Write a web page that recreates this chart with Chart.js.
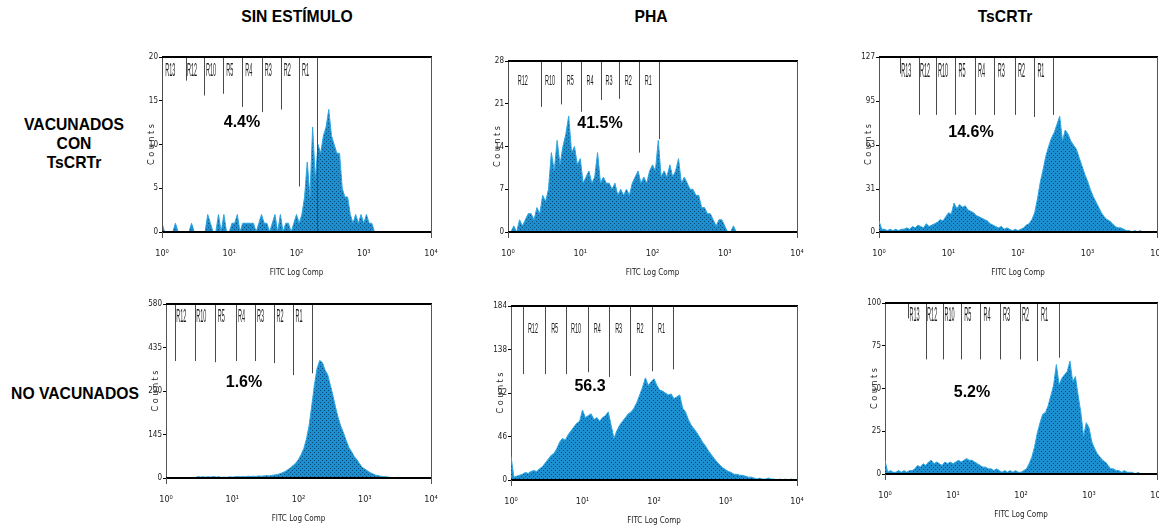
<!DOCTYPE html>
<html>
<head>
<meta charset="utf-8">
<script src="https://cdn.jsdelivr.net/npm/chart.js@4.4.1/dist/chart.umd.min.js"></script>
<style>
  body { margin: 0; background: #fff; }
  #fig { position: relative; width: 1159px; height: 529px; overflow: hidden; font-family: "Liberation Sans", Arial, sans-serif; }
  .t { position: absolute; font-weight: bold; color: #000; white-space: nowrap; transform: translate(-50%, -50%); font-size: 15.7px; }
  .row { text-align: center; line-height: 19px; }
  .pct { font-size: 16px; }
  canvas { position: absolute; }
</style>
</head>
<body>
<div id="fig">
  <div class="t" style="left:297px;top:17px">SIN ESTÍMULO</div>
  <div class="t" style="left:651px;top:17px">PHA</div>
  <div class="t" style="left:1005px;top:17px">TsCRTr</div>
  <div class="t row" style="left:74px;top:143px">VACUNADOS<br>CON<br>TsCRTr</div>
  <div class="t" style="left:75px;top:394px">NO VACUNADOS</div>
</div>
<script>
// channel width of every histogram bin, in decades of FITC
const BIN = 0.04;
const xTickLabels = ['10⁰', '10¹', '10²', '10³', '10⁴'];

// --- VACUNADOS CON TsCRTr ---
const yTicks1 = [0, 5, 10, 15, 20];
const hist1 = [
  1, 0, 0, 0, 0, 1, 0, 0, 0, 0,
  0, 1, 0, 0, 0, 0, 0, 2, 1, 0,
  0, 2, 0, 2, 0, 0, 1, 1, 2, 0,
  1, 1, 1, 1, 1, 0, 1, 2, 1, 1,
  0, 1, 2, 0, 2, 0, 1, 1, 0, 1,
  2, 1, 2, 4, 8, 4, 12, 6, 10, 9,
  11, 12, 14, 11, 10, 9, 9, 5, 4, 4,
  2, 1, 2, 1, 2, 1, 2, 1, 1, 0
];
const gates1 = [0.00, 0.35, 0.63, 0.91, 1.19, 1.48, 1.77, 2.04, 2.31];
const depth1 = [0, 17.3, 15.6, 15.8, 14.3, 13.7, 14.0, 5.2, 0];
const names1 = ['R13', 'R12', 'R10', 'R5', 'R4', 'R3', 'R2', 'R1'];

const yTicks2 = [0, 7, 14, 21, 28];
const hist2 = [
  0, 0, 1, 0, 2, 1, 2, 3, 3, 2,
  4, 3, 6, 5, 7, 13, 10, 15, 11, 14,
  16, 19, 13, 14, 11, 12, 8, 9, 10, 8,
  9, 13, 8, 9, 8, 8, 7, 8, 6, 7,
  6, 7, 6, 8, 9, 10, 8, 9, 8, 10,
  11, 10, 15, 9, 10, 9, 11, 9, 10, 12,
  8, 9, 8, 7, 7, 6, 6, 4, 4, 3,
  3, 2, 1, 2, 2, 1, 0, 0, 1, 0
];
const gates2 = [0.00, 0.456, 0.737, 1.014, 1.282, 1.54, 1.816, 2.093];
const depth2 = [0, 20.5, 20.9, 19.7, 21.6, 21.8, 13.0, 15.2];
const names2 = ['R12', 'R10', 'R5', 'R4', 'R3', 'R2', 'R1'];

const yTicks3 = [0, 31, 63, 95, 127];
const hist3 = [
  8, 2, 2, 1, 2, 1, 2, 1, 2, 2,
  3, 2, 4, 3, 5, 4, 3, 6, 4, 5,
  6, 7, 9, 8, 11, 14, 13, 21, 17, 20,
  18, 19, 16, 15, 14, 12, 11, 10, 9, 8,
  6, 5, 4, 3, 4, 2, 3, 2, 1, 2,
  1, 2, 3, 5, 6, 9, 14, 24, 36, 45,
  55, 62, 68, 72, 78, 84, 66, 74, 71, 66,
  63, 60, 54, 48, 42, 37, 31, 26, 22, 18,
  14, 11, 9, 8, 6, 4, 3, 3, 2, 1,
  1, 0, 1, 0, 1, 0
];
const gates3 = [0.298, 0.572, 0.827, 1.10, 1.375, 1.657, 1.951, 2.234, 2.507];
const depth3 = [115, 85, 85, 85, 85, 85, 85, 83.5, 85];
const names3 = ['R13', 'R12', 'R10', 'R5', 'R4', 'R3', 'R2', 'R1'];

// --- NO VACUNADOS ---
const yTicks4 = [0, 145, 290, 435, 580];
const hist4 = [
  0, 0, 0, 0, 0, 0, 0, 0, 0, 0,
  0, 0, 5, 3, 4, 3, 4, 3, 5, 3,
  4, 2, 3, 2, 4, 3, 4, 5, 4, 5,
  4, 6, 5, 6, 5, 7, 6, 7, 8, 7,
  9, 10, 12, 14, 18, 22, 28, 34, 42, 50,
  62, 78, 98, 130, 175, 240, 310, 365, 392, 385,
  360, 345, 310, 275, 235, 200, 172, 150, 125, 102,
  88, 72, 62, 48, 36, 30, 24, 18, 14, 10,
  8, 6, 5, 4, 3, 0
];
const gates4 = [0.141, 0.443, 0.740, 1.057, 1.339, 1.636, 1.923, 2.21];
const depth4 = [390, 390, 386, 390, 390, 383, 343, 349];
const names4 = ['R12', 'R10', 'R5', 'R4', 'R3', 'R2', 'R1'];

const yTicks5 = [0, 46, 92, 138, 184];
const hist5 = [
  25, 3, 4, 5, 6, 8, 7, 9, 10, 9,
  12, 14, 18, 22, 26, 28, 33, 40, 44, 42,
  48, 52, 56, 60, 62, 74, 66, 68, 70, 64,
  66, 62, 66, 68, 72, 58, 44, 52, 58, 62,
  66, 70, 72, 76, 82, 90, 98, 108, 100, 104,
  107, 100, 95, 94, 92, 90, 91, 86, 88, 90,
  76, 72, 64, 58, 54, 50, 45, 40, 36, 31,
  27, 23, 19, 16, 13, 11, 9, 8, 6, 6,
  5, 5, 4, 3, 3, 2, 1, 2, 1, 1,
  2, 1, 1, 0, 1, 0, 1, 0, 1, 0
];
const gates5 = [0.168, 0.476, 0.775, 1.073, 1.371, 1.670, 1.972, 2.266];
const depth5 = [112, 112, 112, 114, 109, 110, 115, 117];
const names5 = ['R12', 'R5', 'R10', 'R4', 'R3', 'R2', 'R1'];

const yTicks6 = [0, 25, 50, 75, 100];
const hist6 = [
  8, 1, 2, 1, 1, 2, 1, 2, 1, 2,
  2, 3, 5, 4, 6, 5, 7, 8, 6, 7,
  6, 5, 7, 6, 7, 6, 7, 8, 7, 8,
  9, 8, 8, 7, 6, 5, 4, 4, 3, 3,
  2, 3, 2, 1, 2, 1, 2, 1, 2, 1,
  1, 2, 3, 6, 10, 16, 24, 30, 35, 36,
  40, 46, 52, 64, 52, 56, 58, 60, 66, 54,
  57, 46, 36, 22, 30, 27, 19, 15, 12, 10,
  8, 7, 5, 3, 3, 2, 2, 1, 2, 1,
  1, 1, 0, 1, 0
];
const gates6 = [0.344, 0.604, 0.859, 1.119, 1.404, 1.684, 1.978, 2.234, 2.553];
const depth6 = [91, 67, 67, 67, 67, 67, 67, 66, 68];
const names6 = ['R13', 'R12', 'R10', 'R5', 'R4', 'R3', 'R2', 'R1'];

const percents = ['4.4%', '41.5%', '14.6%', '1.6%', '56.3', '5.2%'];

// plot boxes (chart area in page pixels) and label placement
const YW = 30, XH = 46, PADT = 6, PADR = 8;
const narrow = '"Liberation Sans Narrow", "DejaVu Sans Condensed", "Liberation Sans", sans-serif';

const panels = [
  { box: { l: 162, t: 57, r: 431, b: 232 }, hist: hist1, yTicks: yTicks1, gates: gates1, depth: depth1, names: names1, labY: 14, labH: 13, labF: 0.35, pct: [242, 122] },
  { box: { l: 508, t: 61, r: 797, b: 232 }, hist: hist2, yTicks: yTicks2, gates: gates2, depth: depth2, names: names2, labY: 20, labH: 10, labF: 0.45, pct: [600, 123] },
  { box: { l: 879, t: 57, r: 1157, b: 232 }, hist: hist3, yTicks: yTicks3, gates: gates3, depth: depth3, names: names3, labY: 15, labH: 14, labF: 0.35, pct: [971, 132] },
  { box: { l: 166, t: 304, r: 431, b: 478 }, hist: hist4, yTicks: yTicks4, gates: gates4, depth: depth4, names: names4, labY: 13, labH: 13, labF: 0.3, pct: [244, 382] },
  { box: { l: 511, t: 306, r: 797, b: 480 }, hist: hist5, yTicks: yTicks5, gates: gates5, depth: depth5, names: names5, labY: 23, labH: 11, labF: 0.45, pct: [590, 386] },
  { box: { l: 885, t: 303, r: 1157, b: 474 }, hist: hist6, yTicks: yTicks6, gates: gates6, depth: depth6, names: names6, labY: 13, labH: 14, labF: 0.35, pct: [972, 392] }
];

const fig = document.getElementById('fig');

// dotted blue fill like the cytometer print-out
const tile = document.createElement('canvas');
tile.width = 4; tile.height = 4;
const tg = tile.getContext('2d');
tg.fillStyle = '#1c8fd0'; tg.fillRect(0, 0, 4, 4);
tg.fillStyle = '#0d4a7a'; tg.fillRect(0, 0, 1, 1); tg.fillRect(2, 2, 1, 1);

function gatePlugin(p) {
    return {
        id: 'gates',
        afterDatasetsDraw(chart) {
            const { ctx, chartArea: a, scales: { x, y } } = chart;
            ctx.save();
            ctx.strokeStyle = '#4a4a4a';
            ctx.lineWidth = 1;
            p.gates.forEach((g, i) => {
                const px = Math.round(x.getPixelForValue(g)) + 0.5;
                ctx.beginPath();
                ctx.moveTo(px, a.top);
                ctx.lineTo(px, y.getPixelForValue(p.depth[i]));
                ctx.stroke();
            });
            ctx.fillStyle = '#222';
            ctx.font = '10px "Liberation Sans", Arial, sans-serif';
            ctx.textAlign = 'center';
            ctx.textBaseline = 'middle';
            p.names.forEach((n, i) => {
                const x0 = x.getPixelForValue(p.gates[i]);
                const x1 = x.getPixelForValue(p.gates[i + 1]);
                ctx.save();
                ctx.translate(x0 + (x1 - x0) * p.labF, a.top + p.labY);
                ctx.scale(0.55, p.labH / 7.2);
                ctx.fillText(n, 0, 0);
                ctx.restore();
            });
            // frame: thick top and zero line, thin right side
            ctx.strokeStyle = '#000';
            ctx.lineWidth = 2;
            ctx.beginPath();
            ctx.moveTo(a.left, a.top); ctx.lineTo(a.right + 1, a.top);
            ctx.moveTo(a.left, a.bottom); ctx.lineTo(a.right + 1, a.bottom);
            ctx.stroke();
            ctx.strokeStyle = '#555';
            ctx.lineWidth = 1;
            ctx.beginPath();
            ctx.moveTo(a.right + 0.5, a.top); ctx.lineTo(a.right + 0.5, a.bottom + 6);
            ctx.moveTo(a.left + 0.5, a.bottom); ctx.lineTo(a.left + 0.5, a.bottom + 6);
            ctx.stroke();
            ctx.restore();
        }
    };
}

function makeChart(p) {
    const b = p.box;
    const cv = document.createElement('canvas');
    cv.width = b.r - b.l + YW + PADR;
    cv.height = b.b - b.t + PADT + XH;
    cv.style.left = (b.l - YW) + 'px';
    cv.style.top = (b.t - PADT) + 'px';
    fig.appendChild(cv);

    const pattern = cv.getContext('2d').createPattern(tile, 'repeat');
    const points = p.hist.map((v, i) => ({ x: +(i * BIN).toFixed(2), y: v }));

    new Chart(cv, {
        type: 'line',
        data: {
            datasets: [{
                data: points,
                fill: 'origin',
                backgroundColor: pattern,
                borderColor: '#2ea5e0',
                borderWidth: 1,
                pointRadius: 0,
                tension: 0
            }]
        },
        options: {
            responsive: false,
            animation: false,
            devicePixelRatio: 1,
            layout: { padding: { top: PADT, right: PADR, left: 0, bottom: 0 } },
            plugins: { legend: { display: false }, tooltip: { enabled: false } },
            scales: {
                x: {
                    type: 'linear',
                    min: 0,
                    max: 4,
                    afterFit: s => { s.height = XH; s.paddingLeft = 0; s.paddingRight = 0; },
                    afterBuildTicks: s => { s.ticks = xTickLabels.map((_, i) => ({ value: i })); },
                    ticks: {
                        callback: (v, i) => xTickLabels[i],
                        font: { family: narrow, size: 9 },
                        color: '#222',
                        padding: 8,
                        maxRotation: 0,
                        autoSkip: false
                    },
                    grid: { display: false },
                    border: { display: false },
                    title: { display: true, text: 'FITC Log Comp', font: { family: narrow, size: 8 }, color: '#222', padding: 0 }
                },
                y: {
                    min: 0,
                    max: p.yTicks[p.yTicks.length - 1],
                    afterFit: s => { s.width = YW; s.paddingTop = 0; s.paddingBottom = 0; },
                    afterBuildTicks: s => { s.ticks = p.yTicks.map(v => ({ value: v })); },
                    ticks: { font: { family: narrow, size: 8 }, color: '#222', padding: 1 },
                    grid: { drawOnChartArea: false, tickLength: 3, color: '#000' },
                    border: { color: '#555', width: 1 },
                    title: { display: true, text: 'C o u n t s', font: { family: narrow, size: 9 }, color: '#222', padding: { top: 14, bottom: 0 } }
                }
            }
        },
        plugins: [gatePlugin(p)]
    });

    const lab = document.createElement('div');
    lab.className = 't pct';
    lab.style.left = p.pct[0] + 'px';
    lab.style.top = p.pct[1] + 'px';
    lab.textContent = percents[panels.indexOf(p)];
    fig.appendChild(lab);
}

panels.forEach(makeChart);
</script>
</body>
</html>
